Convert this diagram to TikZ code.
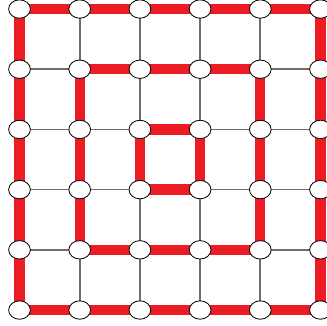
\documentclass[tikz,border=0pt]{standalone}
\usepackage{tikz}
\usetikzlibrary{shapes.geometric,backgrounds}
\definecolor{ringred}{RGB}{237,28,36}
\definecolor{gridgrey}{RGB}{118,108,98}

\begin{document}
\begin{tikzpicture}[x=1.8cm,y=1.8cm,
    site/.style={ellipse,draw=black,fill=white,line width=0.7pt,inner sep=0pt,minimum width=0.65cm,minimum height=0.55cm},
    link/.style={gridgrey,line width=1.4pt},
    ring/.style={ringred,line width=8.8pt}]
  \useasboundingbox (-0.324,-0.249) rectangle (5.108,5.15);
  % lattice sites
  \foreach \i in {0,...,5}
    \foreach \j in {0,...,5}
      \node[site] (n-\i-\j) at (\i,\j) {};
  % bonds: red on the three concentric squares, grey elsewhere
  \begin{scope}[on background layer]
    \foreach \i in {0,...,4}
      \foreach \j in {0,...,5}{%
        \pgfmathtruncatemacro\d{min(\j,5-\j)}
        \pgfmathtruncatemacro\onring{and(\d<=\i,\i<=4-\d)}
        \pgfmathtruncatemacro\ii{\i+1}
        \ifnum\onring=1 \def\sty{ring}\else\def\sty{link}\fi
        \draw[\sty] (n-\i-\j.center) -- (n-\ii-\j.center);
        \draw[\sty] (n-\j-\i.center) -- (n-\j-\ii.center);
      }
  \end{scope}
\end{tikzpicture}
\end{document}
